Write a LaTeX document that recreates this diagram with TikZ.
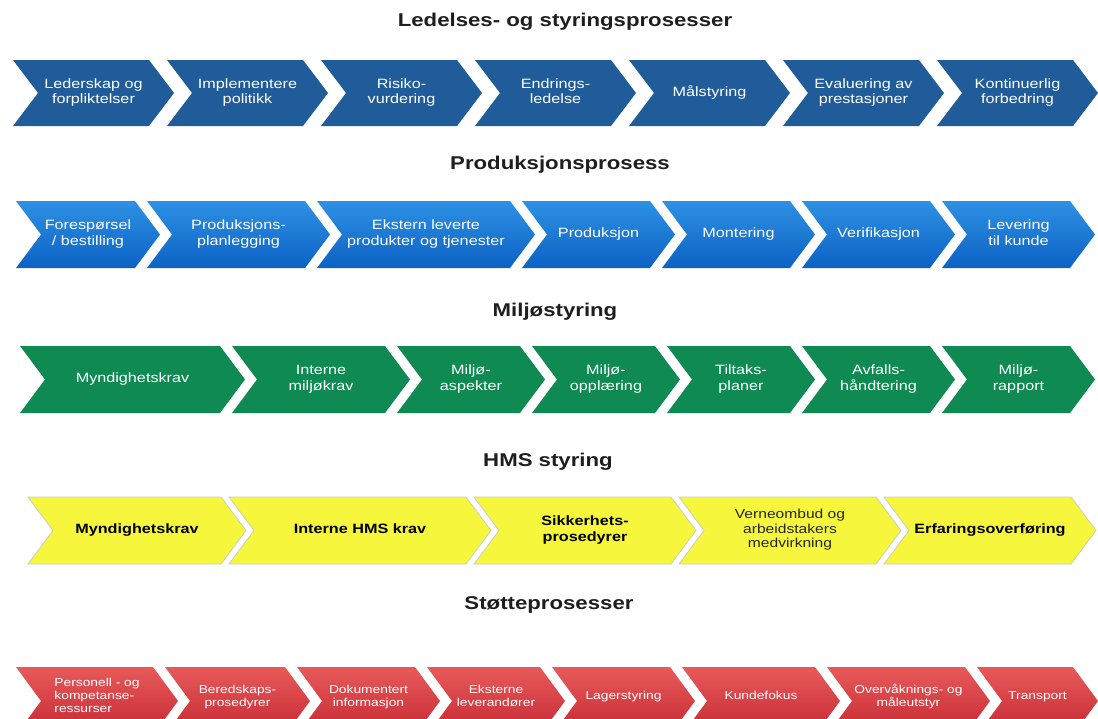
\documentclass[tikz,border=0pt]{standalone}
\usepackage{fontspec}
\setmainfont{Liberation Sans}
\usepackage{graphicx}
\definecolor{cA}{RGB}{31,92,153}
\definecolor{cBt}{RGB}{45,145,228}
\definecolor{cBb}{RGB}{12,98,196}
\definecolor{cC}{RGB}{14,138,82}
\definecolor{cD}{RGB}{246,246,60}
\definecolor{cDb}{RGB}{205,205,190}
\definecolor{cEt}{RGB}{232,90,90}
\definecolor{cEb}{RGB}{196,40,50}
\definecolor{ttl}{RGB}{30,30,30}
\newcommand{\sx}[1]{\scalebox{1.2}[1]{\begin{tabular}{@{}c@{}}#1\end{tabular}}}
\newcommand{\dd}{25}
% x, w, top, bottom, fill style, text style, name, text
\newcommand{\chv}[8]{%
  \path[#5] (#1,#3) -- ({#1+#2-\dd},#3) -- ({#1+#2},{(#3+#4)/2}) -- ({#1+#2-\dd},#4) -- (#1,#4) -- ({#1+\dd},{(#3+#4)/2}) -- cycle;
  \node[#6] (#7) at ({#1+#2/2},{(#3+#4)/2}) {\sx{#8}};
}
\tikzset{
  rowA/.style={fill=cA},
  rowB/.style={top color=cBt,bottom color=cBb},
  rowC/.style={fill=cC},
  rowD/.style={fill=cD,draw=cDb,line width=0.8pt},
  rowE/.style={top color=cEt,bottom color=cEb},
  wtext/.style={text=white,inner sep=0pt,font=\fontsize{13.5}{15.5}\selectfont},
  btext/.style={text=black,inner sep=0pt,font=\bfseries\fontsize{13.5}{15.5}\selectfont},
  ntext/.style={text=black!85,inner sep=0pt,font=\fontsize{13}{14.5}\selectfont},
  etext/.style={text=white,inner sep=0pt,yshift=4pt,font=\fontsize{11.5}{13}\selectfont},
  ttlstyle/.style={text=ttl,inner sep=0pt,font=\bfseries\fontsize{18.5}{22}\selectfont}
}
\begin{document}
\begin{tikzpicture}[x=1pt,y=-1pt]
\useasboundingbox[fill=white] (0,0) rectangle (1098,718);
% titles
\node[ttlstyle] (t1) at (565,22) {\sx{Ledelses- og styringsprosesser}};
\node[ttlstyle] (t2) at (560,165) {\sx{Produksjonsprosess}};
\node[ttlstyle] (t3) at (555,312) {\sx{Miljøstyring}};
\node[ttlstyle] (t4) at (548,462) {\sx{HMS styring}};
\node[ttlstyle] (t5) at (549,605) {\sx{Støtteprosesser}};
% row 1
\chv{13}{161}{60}{126}{rowA}{wtext}{a1}{Lederskap og\\forpliktelser}
\chv{167}{161}{60}{126}{rowA}{wtext}{a2}{Implementere\\politikk}
\chv{321}{161}{60}{126}{rowA}{wtext}{a3}{Risiko-\\vurdering}
\chv{475}{161}{60}{126}{rowA}{wtext}{a4}{Endrings-\\ledelse}
\chv{629}{161}{60}{126}{rowA}{wtext}{a5}{Målstyring}
\chv{783}{161}{60}{126}{rowA}{wtext}{a6}{Evaluering av\\prestasjoner}
\chv{937}{161}{60}{126}{rowA}{wtext}{a7}{Kontinuerlig\\forbedring}
% row 2
\chv{16}{144}{201}{268}{rowB}{wtext}{b1}{Forespørsel\\/ bestilling}
\chv{147}{183}{201}{268}{rowB}{wtext}{b2}{Produksjons-\\planlegging}
\chv{317}{218}{201}{268}{rowB}{wtext}{b3}{Ekstern leverte\\produkter og tjenester}
\chv{522}{153}{201}{268}{rowB}{wtext}{b4}{Produksjon}
\chv{662}{153}{201}{268}{rowB}{wtext}{b5}{Montering}
\chv{802}{153}{201}{268}{rowB}{wtext}{b6}{Verifikasjon}
\chv{942}{153}{201}{268}{rowB}{wtext}{b7}{Levering\\til kunde}
% row 3
\chv{20}{225}{346}{413}{rowC}{wtext}{c1}{Myndighetskrav}
\chv{232}{178}{346}{413}{rowC}{wtext}{c2}{Interne\\miljøkrav}
\chv{397}{148}{346}{413}{rowC}{wtext}{c3}{Miljø-\\aspekter}
\chv{532}{148}{346}{413}{rowC}{wtext}{c4}{Miljø-\\opplæring}
\chv{667}{148}{346}{413}{rowC}{wtext}{c5}{Tiltaks-\\planer}
\chv{802}{153}{346}{413}{rowC}{wtext}{c6}{Avfalls-\\håndtering}
\chv{942}{153}{346}{413}{rowC}{wtext}{c7}{Miljø-\\rapport}
% row 4
\chv{28}{218}{497}{564}{rowD}{btext}{d1}{Myndighetskrav}
\chv{229}{262}{497}{564}{rowD}{btext}{d2}{Interne HMS krav}
\chv{474}{222}{497}{564}{rowD}{btext}{d3}{Sikkerhets-\\prosedyrer}
\chv{679}{222}{497}{564}{rowD}{ntext}{d4}{Verneombud og\\arbeidstakers\\medvirkning}
\chv{884}{212}{497}{564}{rowD}{btext}{d5}{Erfaringsoverføring}
% row 5
\chv{16}{162}{667}{735}{rowE}{etext}{e1}{\begin{tabular}{@{}l@{}}Personell - og\\kompetanse-\\ressurser\end{tabular}}
\chv{165}{145}{667}{735}{rowE}{etext}{e2}{Beredskaps-\\prosedyrer}
\chv{297}{143}{667}{735}{rowE}{etext}{e3}{Dokumentert\\informasjon}
\chv{427}{138}{667}{735}{rowE}{etext}{e4}{Eksterne\\leverandører}
\chv{552}{143}{667}{735}{rowE}{etext}{e5}{Lagerstyring}
\chv{682}{158}{667}{735}{rowE}{etext}{e6}{Kundefokus}
\chv{827}{163}{667}{735}{rowE}{etext}{e7}{Overvåknings- og\\måleutstyr}
\chv{977}{121}{667}{735}{rowE}{etext}{e8}{Transport}
\end{tikzpicture}
\end{document}
